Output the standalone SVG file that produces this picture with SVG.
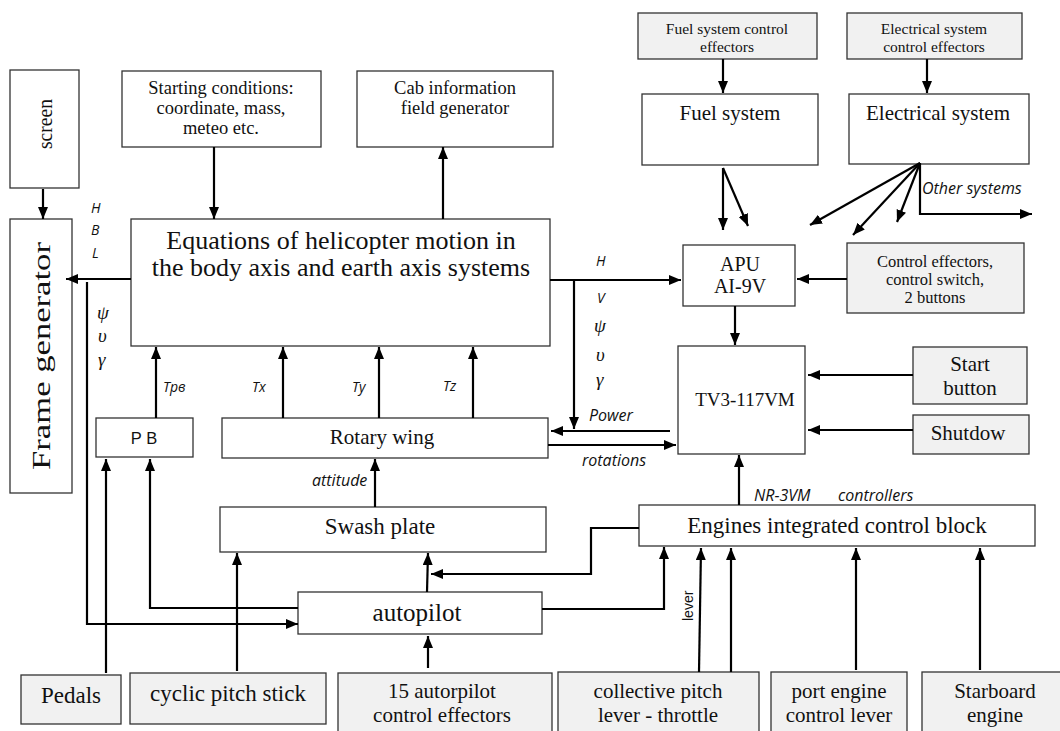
<svg xmlns="http://www.w3.org/2000/svg" width="1060" height="731" viewBox="0 0 1060 731">
  <style>
    .box { fill: #ffffff; stroke: #333333; stroke-width: 1.3; }
    .gbox { fill: #f1f1f1; stroke: #333333; stroke-width: 1.3; }
    .t { font-family: "Liberation Serif", "Times New Roman", serif; fill: #111111; text-anchor: middle; }
    .lbl { font-family: "Open Sans", "Liberation Sans", sans-serif; font-style: italic; fill: #111111; font-size: 14px; }
    .lbl2 { font-family: "Open Sans", "Liberation Sans", sans-serif; font-style: italic; fill: #111111; font-size: 16px; }
    .gr { font-family: "Liberation Serif", serif; font-style: italic; fill: #111111; font-size: 19px; }
    .conn path { fill: none; stroke: #000000; stroke-width: 2.2; }
  </style>
  <defs>
    <marker id="arr" viewBox="0 0 12 10" refX="12" refY="5" markerWidth="12" markerHeight="10" markerUnits="userSpaceOnUse" orient="auto">
      <path d="M0,0 L12,5 L0,10 Z" fill="#000000"/>
    </marker>
  </defs>
  <rect width="1060" height="731" fill="#ffffff"/>

  <!-- Display chain -->
  <g id="screen">
    <rect class="box" x="10" y="70" width="69" height="118"/>
    <text class="t" font-size="22" transform="translate(52,124) rotate(-90)" textLength="50" lengthAdjust="spacingAndGlyphs">screen</text>
  </g>
  <g id="frame-generator">
    <rect class="box" x="10" y="219" width="62" height="274"/>
    <text class="t" font-size="26" transform="translate(50,356) rotate(-90)" textLength="228" lengthAdjust="spacingAndGlyphs">Frame generator</text>
  </g>

  <g id="starting-conditions">
    <rect class="box" x="122" y="71" width="199" height="76"/>
    <text class="t" font-size="18.5" x="221" y="94">Starting conditions:</text>
    <text class="t" font-size="18.5" x="221" y="114">coordinate, mass,</text>
    <text class="t" font-size="18.5" x="221" y="134">meteo etc.</text>
  </g>
  <g id="cab-info">
    <rect class="box" x="357" y="71" width="196" height="76"/>
    <text class="t" font-size="18.5" x="455" y="94">Cab information</text>
    <text class="t" font-size="18.5" x="455" y="114">field generator</text>
  </g>

  <g id="equations">
    <rect class="box" x="131" y="219" width="419" height="127"/>
    <text class="t" font-size="26" x="341" y="249">Equations of helicopter motion in</text>
    <text class="t" font-size="26" x="341" y="276">the body axis and earth axis systems</text>
  </g>

  <g id="pb">
    <rect class="box" x="96" y="418" width="97" height="39"/>
    <text font-family="Liberation Sans, sans-serif" font-size="16.5" text-anchor="middle" x="144" y="444" fill="#111">P B</text>
  </g>
  <g id="rotary-wing">
    <rect class="box" x="222" y="418" width="326" height="40"/>
    <text class="t" font-size="21" x="382" y="444">Rotary wing</text>
  </g>
  <g id="swash-plate">
    <rect class="box" x="220" y="507" width="326" height="45"/>
    <text class="t" font-size="23" x="380" y="534">Swash plate</text>
  </g>
  <g id="autopilot">
    <rect class="box" x="298" y="592" width="244" height="42"/>
    <text class="t" font-size="25" x="417" y="621">autopilot</text>
  </g>
  <g id="engines-control">
    <rect class="box" x="639" y="505" width="396" height="41"/>
    <text class="t" font-size="23" x="837" y="533">Engines integrated control block</text>
  </g>

  <!-- Right side: power plant -->
  <g id="fuel-effectors">
    <rect class="gbox" x="638" y="13" width="179" height="46"/>
    <text class="t" font-size="15.5" x="727" y="34">Fuel system control</text>
    <text class="t" font-size="15.5" x="727" y="52">effectors</text>
  </g>
  <g id="electrical-effectors">
    <rect class="gbox" x="847" y="13" width="175" height="46"/>
    <text class="t" font-size="15.5" x="934" y="34">Electrical system</text>
    <text class="t" font-size="15.5" x="934" y="52">control effectors</text>
  </g>
  <g id="fuel-system">
    <rect class="box" x="642" y="94" width="176" height="71"/>
    <text class="t" font-size="21" x="730" y="120">Fuel system</text>
  </g>
  <g id="electrical-system">
    <rect class="box" x="849" y="94" width="180" height="70"/>
    <text class="t" font-size="21" x="938" y="120">Electrical system</text>
  </g>
  <g id="apu">
    <rect class="box" x="683" y="245" width="112" height="61"/>
    <text class="t" font-size="20" x="740" y="271">APU</text>
    <text class="t" font-size="20" x="740" y="293">AI-9V</text>
  </g>
  <g id="apu-effectors">
    <rect class="gbox" x="847" y="243" width="177" height="70"/>
    <text class="t" font-size="16.5" x="935" y="267">Control effectors,</text>
    <text class="t" font-size="16.5" x="935" y="285">control switch,</text>
    <text class="t" font-size="16.5" x="935" y="303">2 buttons</text>
  </g>
  <g id="tv3">
    <rect class="box" x="678" y="346" width="127" height="108"/>
    <text class="t" font-size="19" x="745" y="406">TV3-117VM</text>
  </g>
  <g id="start-button">
    <rect class="gbox" x="913" y="347" width="114" height="57"/>
    <text class="t" font-size="21" x="970" y="371">Start</text>
    <text class="t" font-size="21" x="970" y="395">button</text>
  </g>
  <g id="shutdown">
    <rect class="gbox" x="913" y="415" width="116" height="39"/>
    <text class="t" font-size="21" x="968" y="440">Shutdow</text>
  </g>

  <!-- Cockpit controls -->
  <g id="pedals">
    <rect class="gbox" x="21" y="675" width="100" height="49"/>
    <text class="t" font-size="23" x="71" y="703">Pedals</text>
  </g>
  <g id="cyclic-stick">
    <rect class="gbox" x="130" y="673" width="196" height="51"/>
    <text class="t" font-size="23" x="228" y="701">cyclic pitch stick</text>
  </g>
  <g id="autopilot-effectors">
    <rect class="gbox" x="338" y="673" width="214" height="60"/>
    <text class="t" font-size="21" x="442" y="698">15 autorpilot</text>
    <text class="t" font-size="21" x="442" y="722">control  effectors</text>
  </g>
  <g id="collective-lever">
    <rect class="gbox" x="558" y="672" width="201" height="61"/>
    <text class="t" font-size="21" x="658" y="698">collective  pitch</text>
    <text class="t" font-size="21" x="658" y="722">lever - throttle</text>
  </g>
  <g id="port-engine-lever">
    <rect class="gbox" x="771" y="672" width="136" height="61"/>
    <text class="t" font-size="21" x="839" y="698">port engine</text>
    <text class="t" font-size="21" x="839" y="722">control lever</text>
  </g>
  <g id="starboard-engine">
    <rect class="gbox" x="922" y="672" width="140" height="61"/>
    <text class="t" font-size="21" x="995" y="698">Starboard</text>
    <text class="t" font-size="21" x="995" y="722">engine</text>
  </g>

  <!-- Connectors -->
  <g class="conn">
    <path d="M43,189 V219" marker-end="url(#arr)"/>
    <path d="M131,279 H66" marker-end="url(#arr)"/>
    <path d="M87,282 V624 H298" marker-end="url(#arr)"/>
    <path d="M214,147 V219" marker-end="url(#arr)"/>
    <path d="M443,219 V147" marker-end="url(#arr)"/>
    <path d="M156,418 V347" marker-end="url(#arr)"/>
    <path d="M283,418 V347" marker-end="url(#arr)"/>
    <path d="M379,418 V347" marker-end="url(#arr)"/>
    <path d="M473,418 V347" marker-end="url(#arr)"/>
    <path d="M106,673 V459" marker-end="url(#arr)"/>
    <path d="M298,608 H150 V459" marker-end="url(#arr)"/>
    <path d="M375,507 V459" marker-end="url(#arr)"/>
    <path d="M237,671 V553" marker-end="url(#arr)"/>
    <path d="M427,592 L428,553" marker-end="url(#arr)"/>
    <path d="M639,528 H591 V574 H431" marker-end="url(#arr)"/>
    <path d="M542,609 H664 V547" marker-end="url(#arr)"/>
    <path d="M428,668 V636" marker-end="url(#arr)"/>
    <path d="M699,672 L701,548" marker-end="url(#arr)"/>
    <path d="M731,672 V548" marker-end="url(#arr)"/>
    <path d="M856,670 V548" marker-end="url(#arr)"/>
    <path d="M980,670 V548" marker-end="url(#arr)"/>
    <path d="M739,505 V455" marker-end="url(#arr)"/>
    <path d="M550,280 H681" marker-end="url(#arr)"/>
    <path d="M574,280 V429" marker-end="url(#arr)"/>
    <path d="M670,431 H551" marker-end="url(#arr)"/>
    <path d="M548,445 H676" marker-end="url(#arr)"/>
    <path d="M913,375 H808" marker-end="url(#arr)"/>
    <path d="M913,430 H808" marker-end="url(#arr)"/>
    <path d="M735,306 V345" marker-end="url(#arr)"/>
    <path d="M847,279 H797" marker-end="url(#arr)"/>
    <path d="M723,59 V93" marker-end="url(#arr)"/>
    <path d="M927,59 V93" marker-end="url(#arr)"/>
    <path d="M723,168 V230" marker-end="url(#arr)"/>
    <path d="M723,168 L748,226" marker-end="url(#arr)"/>
    <path d="M920,163 L810,225" marker-end="url(#arr)"/>
    <path d="M920,163 L853,235" marker-end="url(#arr)"/>
    <path d="M920,163 L897,222" marker-end="url(#arr)"/>
    <path d="M920,163 V214 H1032" marker-end="url(#arr)"/>
  </g>

  <!-- Signal labels -->
  <g id="labels">
    <text class="lbl" x="91" y="213">H</text>
    <text class="lbl" x="91" y="235">B</text>
    <text class="lbl" x="92" y="258">L</text>
    <text class="gr" x="97" y="319">ψ</text>
    <text class="gr" x="98" y="342">υ</text>
    <text class="gr" x="98" y="366">γ</text>
    <text class="lbl" x="163" y="392">Tрв</text>
    <text class="lbl" x="252" y="392">Tx</text>
    <text class="lbl" x="352" y="392">Ty</text>
    <text class="lbl" x="443" y="391">Tz</text>
    <text class="lbl" x="596" y="266">H</text>
    <text class="lbl" x="597" y="303">V</text>
    <text class="gr" x="594" y="332">ψ</text>
    <text class="gr" x="596" y="361">υ</text>
    <text class="gr" x="596" y="386">γ</text>
    <text class="lbl2" x="589" y="421">Power</text>
    <text class="lbl2" x="582" y="466">rotations</text>
    <text class="lbl2" x="312" y="486">attitude</text>
    <text class="lbl2" x="754" y="501">NR-3VM</text>
    <text class="lbl2" x="838" y="501">controllers</text>
    <text class="lbl2" x="922" y="194">Other systems</text>
    <text font-family="Liberation Sans, sans-serif" font-size="14" fill="#111" transform="translate(693,621) rotate(-90)">lever</text>
  </g>
</svg>
